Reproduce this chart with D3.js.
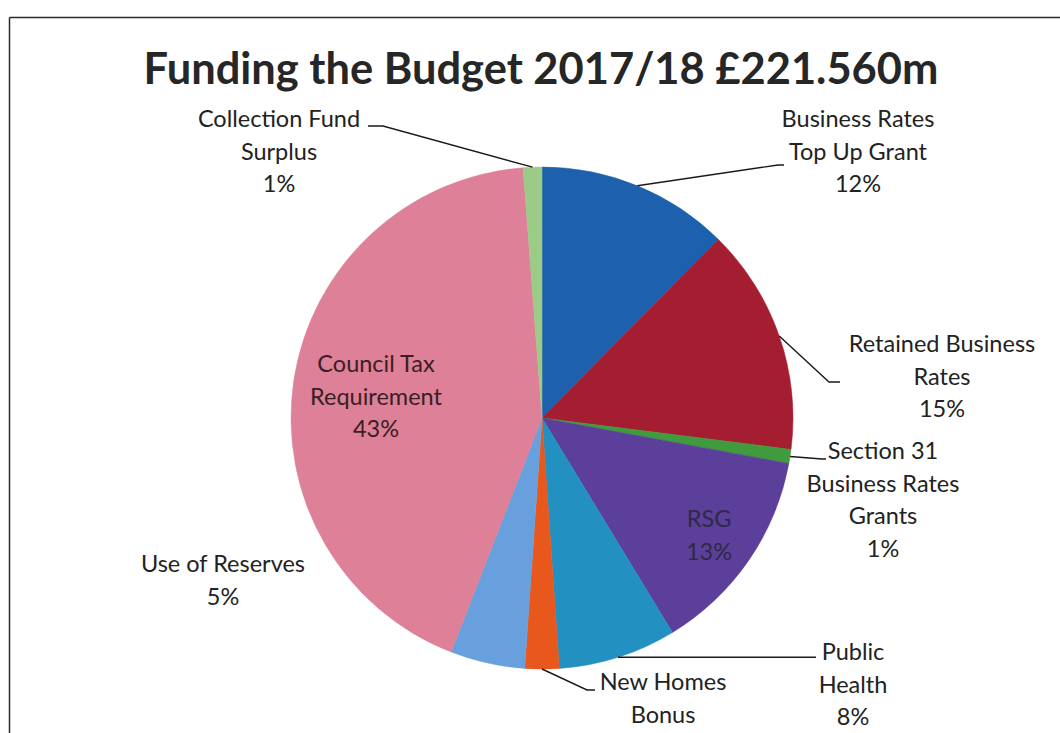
<!DOCTYPE html>
<html>
<head>
<meta charset="utf-8">
<script src="https://cdn.jsdelivr.net/npm/d3@7"></script>
<style>
  html, body { margin: 0; padding: 0; background: #fff; }
  svg { display: block; }
  text { font-family: Lato, "Open Sans", sans-serif; }
</style>
</head>
<body>
<svg id="chart" width="1060" height="733"></svg>
<script>
// Funding sources, in £m, clockwise from 12 o'clock
const categories = [
  "Business Rates Top Up Grant",
  "Retained Business Rates",
  "Section 31 Business Rates Grants",
  "RSG",
  "Public Health",
  "New Homes Bonus",
  "Use of Reserves",
  "Council Tax Requirement",
  "Collection Fund Surplus"
];
const values = [27.47, 32.35, 1.99, 29.69, 16.84, 4.87, 10.63, 95.05, 2.66];
const colors = ["#1c60ae", "#a51d31", "#3f9b3c", "#5b3f9b", "#2390c2",
                "#e8571c", "#68a0dd", "#de8097", "#9ccb87"];
const titleText = "Funding the Budget 2017/18 £221.560m";

// label lines for each slice; showPct = whether the percentage line is drawn
const labelLines = [
  ["Business Rates", "Top Up Grant"],
  ["Retained Business", "Rates"],
  ["Section 31", "Business Rates", "Grants"],
  ["RSG"],
  ["Public", "Health"],
  ["New Homes", "Bonus"],
  ["Use of Reserves"],
  ["Council Tax", "Requirement"],
  ["Collection Fund", "Surplus"]
];
const showPct = [true, true, true, true, true, false, true, true, true];

// label placement: centre x, first baseline, leader path (null = none)
// leader: list of points after the slice edge point
const layout = [
  { x: 858, y: 127, leader: [[778, 165], [784, 165]] },
  { x: 942, y: 352, leader: [[829, 382], [840, 382]] },
  { x: 883, y: 459, leader: [[822, 459], [826, 459]] },
  { x: 709, y: 527, leader: null },
  { x: 853, y: 660, leader: [[816, "edge"]] },
  { x: 663, y: 690, leader: [[587, 690], [595, 690]] },
  { x: 223, y: 572, leader: null },
  { x: 376, y: 372, leader: null },
  { x: 279, y: 127, leader: [[383, 126], [368, 126]] }
];

const W = 1060, H = 733;
const cx = 542, cy = 418, R = 251;
const lineH = 32.5;

const svg = d3.select("#chart");

// frame (top and left edges visible)
svg.append("line").attr("x1", 9.5).attr("y1", 17.5).attr("x2", W).attr("y2", 17.5)
  .attr("stroke", "#2a2a2a").attr("stroke-width", 1.5);
svg.append("line").attr("x1", 9.5).attr("y1", 17.5).attr("x2", 9.5).attr("y2", H)
  .attr("stroke", "#2a2a2a").attr("stroke-width", 1.5);

// title, fitted to its width
const title = svg.append("text")
  .attr("x", 541).attr("y", 84)
  .attr("text-anchor", "middle")
  .attr("font-weight", 700)
  .attr("font-size", 44)
  .attr("fill", "#262626")
  .text(titleText);
const tw = title.node().getComputedTextLength();
title.attr("font-size", 44 * 795 / tw);

const total = d3.sum(values);
const data = categories.map((c, i) => ({ name: c, value: values[i], i }));

const pie = d3.pie().value(d => d.value).sort(null);
const arcs = pie(data);
const arc = d3.arc().innerRadius(0).outerRadius(R);

const g = svg.append("g").attr("transform", `translate(${cx},${cy})`);
g.selectAll("path.slice")
  .data(arcs)
  .join("path")
  .attr("class", "slice")
  .attr("d", arc)
  .attr("fill", d => colors[d.data.i])
  .attr("stroke", d => colors[d.data.i])
  .attr("stroke-width", 0.5);

// leader lines from the outer edge at the slice mid-angle
const edgePoint = d => {
  const a = (d.startAngle + d.endAngle) / 2;
  return [cx + R * Math.sin(a), cy - R * Math.cos(a)];
};

arcs.forEach(d => {
  const L = layout[d.data.i];
  if (!L.leader) return;
  const p0 = edgePoint(d);
  const pts = [p0].concat(L.leader.map(p => [p[0], p[1] === "edge" ? p0[1] : p[1]]));
  svg.append("path")
    .attr("d", d3.line()(pts))
    .attr("fill", "none")
    .attr("stroke", "#1a1a1a")
    .attr("stroke-width", 1.4);
});

// labels
const pctFmt = v => Math.round(v / total * 100) + "%";
arcs.forEach(d => {
  const i = d.data.i;
  const L = layout[i];
  const lines = labelLines[i].slice();
  if (showPct[i]) lines.push(pctFmt(d.data.value));
  const t = svg.append("text")
    .attr("x", L.x).attr("y", L.y)
    .attr("text-anchor", "middle")
    .attr("font-size", 23.5)
    .attr("fill", i === 3 ? "#2e2a45" : (i === 7 ? "#3a1e25" : "#222222"));
  lines.forEach((s, k) => {
    t.append("tspan").attr("x", L.x).attr("y", L.y + k * lineH).text(s);
  });
});
</script>
</body>
</html>
